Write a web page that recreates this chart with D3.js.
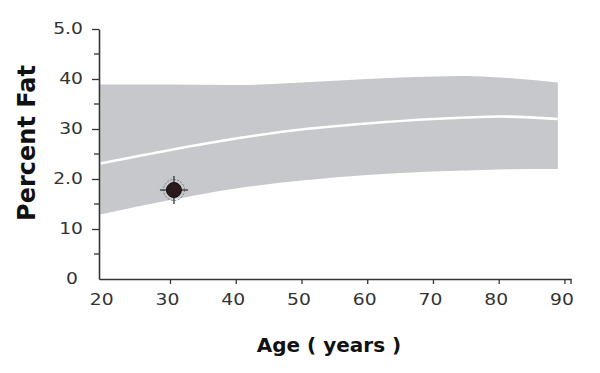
<!DOCTYPE html>
<html><head><meta charset="utf-8">
<script src="https://cdn.jsdelivr.net/npm/d3@7"></script>
<style>body{margin:0;background:#fff}svg{display:block}</style>
</head><body>
<svg id="c" width="600" height="373"></svg>
<script>
const ages = [19.4, 30, 40, 50, 60, 70, 75, 80, 89];
const upper = [38.9, 38.9, 38.8, 39.3, 40.0, 40.5, 40.6, 40.3, 39.3];
const median = [23.1, 25.8, 28.1, 29.9, 31.1, 32.0, 32.3, 32.5, 32.0];
const lower = [12.9, 15.8, 18.1, 19.7, 20.8, 21.5, 21.7, 21.9, 22.0];
const pointAge = [30.6];
const pointFat = [17.8];
const xTicks = [20, 30, 40, 50, 60, 70, 80, 90];
const yTicks = [0, 10, 20, 30, 40, 50];
const yTickLabels = ["0", "10", "2.0", "30", "40", "5.0"];
const yMinor = [5, 15, 25, 35, 45];

const svg = d3.select("#c");
const x = d3.scaleLinear().domain([19.2, 91]).range([99, 571]);
const y = d3.scaleLinear().domain([0, 50]).range([279, 29]);
const band = ages.map((a, i) => ({a, u: upper[i], m: median[i], l: lower[i]}));

svg.append("path").datum(band)
  .attr("d", d3.area().x(d => x(d.a)).y0(d => y(d.l)).y1(d => y(d.u)).curve(d3.curveMonotoneX))
  .attr("fill", "#c6c8cc");
svg.append("path").datum(band)
  .attr("d", d3.line().x(d => x(d.a)).y(d => y(d.m)).curve(d3.curveMonotoneX))
  .attr("fill", "none").attr("stroke", "#fff").attr("stroke-width", 2.6);

// point marker
const pts = pointAge.map((a, i) => ({a, v: pointFat[i]}));
const g = svg.selectAll("g.pt").data(pts).join("g").attr("class", "pt")
  .attr("transform", d => `translate(${x(d.a)},${y(d.v)})`);
g.append("circle").attr("r", 10.5).attr("fill", "none").attr("stroke", "#777").attr("stroke-width", 1).attr("stroke-dasharray", "2,1.5");
[[0,-14,0,-6],[0,6,0,14],[-14,0,-6,0],[6,0,14,0]].forEach(l => {
  g.append("line").attr("x1", l[0]).attr("y1", l[1]).attr("x2", l[2]).attr("y2", l[3]).attr("stroke", "#333").attr("stroke-width", 1.3);
});
g.append("circle").attr("r", 7.5).attr("fill", "#2a1a1c").attr("stroke", "#111").attr("stroke-width", 1);

// axes
const font = "'DejaVu Sans', sans-serif";
const sx = 1.25;
const xAxis = svg.append("g").attr("transform", "translate(0,279)")
  .call(d3.axisBottom(x).tickValues(xTicks).tickSize(5).tickFormat(d3.format("d")).tickSizeOuter(0));
xAxis.select(".domain").attr("stroke", "#333").attr("stroke-width", 1.6);
xAxis.selectAll(".tick line").attr("stroke", "#333").attr("stroke-width", 1.3)
  .attr("y2", d => d === 20 ? 0 : 5);
xAxis.selectAll("text").attr("font-size", 15).attr("font-family", font).attr("fill", "#333")
  .attr("y", 26).attr("dy", 0).attr("x", -3 / sx).attr("transform", `scale(${sx},1)`);
svg.append("line").attr("x1", 571).attr("x2", 571).attr("y1", 279).attr("y2", 284).attr("stroke", "#333").attr("stroke-width", 1.3);

const yAxis = svg.append("g").attr("transform", "translate(99,0)")
  .call(d3.axisLeft(y).tickValues(yTicks).tickSize(7).tickFormat((d, i) => yTickLabels[i]).tickSizeOuter(0));
yAxis.select(".domain").attr("stroke", "#333").attr("stroke-width", 1.6);
yAxis.selectAll(".tick line").attr("stroke", "#333").attr("stroke-width", 1.3)
  .attr("x2", d => d === 0 ? 0 : -7);
yAxis.selectAll("text").attr("font-size", 15).attr("font-family", font).attr("fill", "#333")
  .attr("x", d => (d === 0 ? -21 : -16) / sx).attr("transform", `scale(${sx},1)`);
svg.append("g").selectAll("line").data(yMinor).join("line")
  .attr("x1", 94).attr("x2", 99).attr("y1", d => y(d)).attr("y2", d => y(d))
  .attr("stroke", "#333").attr("stroke-width", 1.3);

svg.append("text").text("Percent Fat")
  .attr("transform", "translate(35,143) rotate(-90)").attr("text-anchor", "middle")
  .attr("font-family", "'DejaVu Sans', sans-serif").attr("font-weight", "bold").attr("font-size", 24).attr("fill", "#111");
svg.append("text").text("Age ( years )")
  .attr("x", 329).attr("y", 352).attr("text-anchor", "middle")
  .attr("font-family", "'DejaVu Sans', sans-serif").attr("font-weight", "bold").attr("font-size", 20).attr("fill", "#111");
</script>
</body></html>
